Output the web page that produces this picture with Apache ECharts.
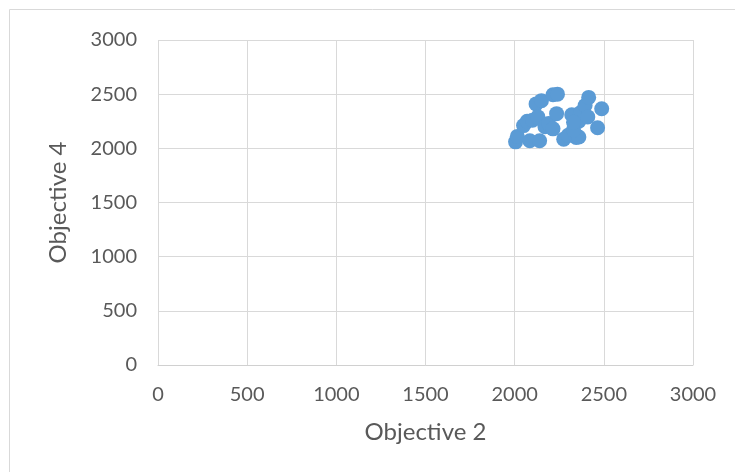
<!DOCTYPE html>
<html>
<head>
<meta charset="utf-8">
<script src="https://cdn.jsdelivr.net/npm/echarts@6/dist/echarts.min.js"></script>
<style>
  html, body { margin: 0; padding: 0; background: #fff; }
  #chart { width: 735px; height: 472px; }
</style>
</head>
<body>
<div id="chart"></div>
<script>
// values
const objective2 = [2005, 2015, 2050, 2070, 2085, 2100, 2120, 2130, 2140, 2150, 2170, 2190, 2215, 2240, 2235, 2215, 2275, 2300, 2320, 2345, 2360, 2330, 2360, 2370, 2395, 2415, 2410, 2465, 2488, 2330];
const objective4 = [2060, 2110, 2210, 2250, 2070, 2260, 2410, 2290, 2070, 2440, 2200, 2230, 2495, 2500, 2320, 2180, 2085, 2120, 2310, 2100, 2105, 2170, 2250, 2330, 2395, 2470, 2290, 2190, 2365, 2240];
const axisTicks = [0, 500, 1000, 1500, 2000, 2500, 3000];

const points = objective2.map((x, i) => [x, objective4[i]]);

const chart = echarts.init(document.getElementById('chart'));
const labelFont = { color: '#595959', fontFamily: 'Lato', fontSize: 20 };
const titleFont = { color: '#595959', fontFamily: 'Lato', fontSize: 24 };

chart.setOption({
  animation: false,
  graphic: [{
    type: 'rect',
    shape: { x: 9.5, y: 9.5, width: 740, height: 480 },
    style: { fill: 'none', stroke: '#d9d9d9', lineWidth: 1 },
    silent: true
  }],
  grid: { left: 158, right: 42, top: 40, bottom: 107 },
  xAxis: {
    type: 'value',
    min: axisTicks[0],
    max: axisTicks[axisTicks.length - 1],
    interval: 500,
    name: 'Objective 2',
    nameLocation: 'middle',
    nameGap: 55,
    nameTextStyle: titleFont,
    axisLine: { show: true, lineStyle: { color: '#d0d0d0', width: 1 } },
    axisTick: { show: false },
    axisLabel: Object.assign({ margin: 20, formatter: v => String(v) }, labelFont),
    splitLine: { show: true, lineStyle: { color: '#d9d9d9', width: 1 } }
  },
  yAxis: {
    type: 'value',
    min: axisTicks[0],
    max: axisTicks[axisTicks.length - 1],
    interval: 500,
    name: 'Objective 4',
    nameLocation: 'middle',
    nameGap: 88,
    nameRotate: 90,
    nameTextStyle: titleFont,
    axisLine: { show: false },
    axisTick: { show: false },
    axisLabel: Object.assign({ margin: 21, formatter: v => String(v) }, labelFont),
    splitLine: { show: true, lineStyle: { color: '#d9d9d9', width: 1 } }
  },
  series: [{
    type: 'scatter',
    data: points,
    symbol: 'circle',
    symbolSize: 15,
    itemStyle: { color: '#5b9bd5', opacity: 1 }
  }]
});
</script>
</body>
</html>
